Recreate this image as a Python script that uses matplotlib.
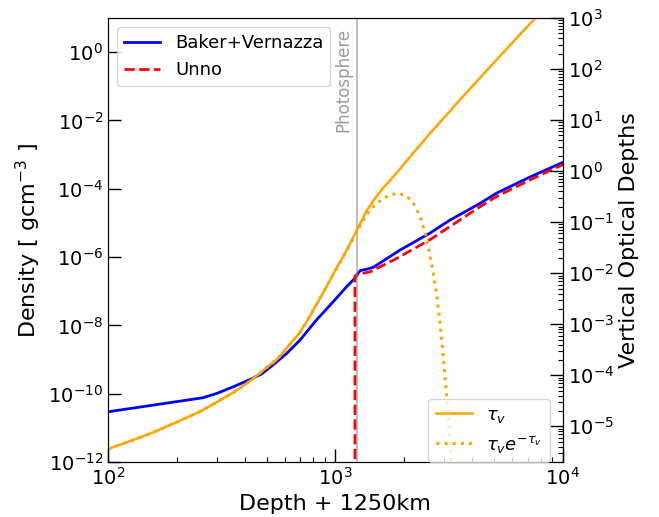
import matplotlib
matplotlib.use("Agg")
import matplotlib.pyplot as plt
from matplotlib.ticker import LogLocator, NullLocator, FixedLocator
import numpy as np

# Density profiles, depth measured from 1250 km above the photosphere (km)
bvDepth = [100, 261, 301, 356, 421, 474, 531, 610, 698, 826, 977, 1119, 1219,
           1282, 1371, 1466, 1923, 2600, 3184, 4315, 5105, 7161, 10000]
bvDensity = [2.95e-11, 7.6e-11, 1.02e-10, 1.6e-10, 2.6e-10, 3.8e-10, 6.9e-10,
             1.5e-9, 3.7e-9, 1.45e-8, 4.9e-8, 1.35e-7, 2.4e-7, 4.0e-7, 4.4e-7,
             5.0e-7, 1.6e-6, 5.0e-6, 1.2e-5, 3.7e-5, 7.4e-5, 2.2e-4, 5.9e-4]

unnoDepth = [1219, 1219, 1259, 1303, 1419, 1858, 2600, 4315, 5105, 7161, 10000]
unnoDensity = [1e-14, 2.8e-7, 3.2e-7, 3.3e-7, 3.7e-7, 9.1e-7, 3.2e-6, 2.95e-5,
               5.9e-5, 1.8e-4, 5.1e-4]

# Vertical optical depth
tauDepth = [100, 126, 153, 200, 254, 302, 356, 407, 451, 501, 551, 617, 698,
            759, 826, 902, 977, 1119, 1239, 1371, 1479, 1622, 1758, 1888, 2056,
            2178, 2275, 2366, 2489, 2582, 2692, 2786, 2877, 2979, 3097, 3184,
            3311, 3981, 5623, 7656, 10000]
tauValues = [3.6e-6, 5.2e-6, 7.2e-6, 1.2e-5, 1.95e-5, 3.0e-5, 4.6e-5, 6.9e-5,
             9.8e-5, 1.45e-4, 2.0e-4, 3.6e-4, 6.9e-4, 1.26e-3, 2.45e-3,
             4.9e-3, 9.5e-3, 2.8e-2, 6.8e-2, 0.166, 0.275, 0.47, 0.69, 1.0,
             1.58, 2.14, 2.7, 3.3, 4.3, 5.25, 6.45, 7.6, 8.9, 10.7, 12.9, 14.8,
             18.2, 45.0, 240.0, 1050.0, 4000.0]

photosphereDepth = 1250


def configureTicks(ax, ax2) -> None:
    """`configureTicks` sets inward log ticks on both y axes and the depth axis."""

    for a in (ax, ax2):
        a.tick_params(which="both", direction="in", labelsize=14)
        a.tick_params(which="major", length=9.5, width=1)
        a.tick_params(which="minor", length=3.5, width=0.8)

    # Left axis: labels every second decade, no minor ticks
    ax.yaxis.set_major_locator(FixedLocator([10.0 ** p for p in range(-12, 1, 2)]))
    ax.yaxis.set_minor_locator(NullLocator())

    # Right axis: every decade with minor ticks
    ax2.yaxis.set_major_locator(LogLocator(base=10, numticks=20))
    ax2.yaxis.set_minor_locator(LogLocator(base=10, subs=np.arange(2, 10), numticks=20))

    ax.xaxis.set_major_locator(LogLocator(base=10, numticks=10))
    ax.xaxis.set_minor_locator(LogLocator(base=10, subs=np.arange(2, 10), numticks=10))
    ax.xaxis.set_minor_formatter(plt.NullFormatter())


fig, ax = plt.subplots(figsize=(6.59, 5.17), dpi=100)
fig.subplots_adjust(left=0.164, right=0.854, bottom=0.1064, top=0.9652)

ax.plot(bvDepth, bvDensity, color="blue", lw=2, label="Baker+Vernazza")
ax.plot(unnoDepth, unnoDensity, color="red", lw=2, ls="--", label="Unno")

# Photosphere marker
ax.axvline(photosphereDepth, color="gray", alpha=0.5, lw=1.5)
ax.text(photosphereDepth / 1.055, 0.977, "Photosphere", rotation=90,
        ha="right", va="top", fontsize=12, color="gray", alpha=0.8,
        transform=ax.get_xaxis_transform())

ax.set_xscale("log")
ax.set_yscale("log")
ax.set_xlim(1e2, 1e4)
ax.set_ylim(1e-12, 1e1)
ax.set_xlabel("Depth + 1250km", fontsize=16)
ax.set_ylabel("Density [ gcm$^{-3}$ ]", fontsize=16)
ax.legend(loc="upper left", fontsize=13)

ax2 = ax.twinx()
tau = np.array(tauValues)
ax2.plot(tauDepth, tau, color="orange", lw=1.8, label=r"$\tau_v$")
ax2.plot(tauDepth, tau * np.exp(-tau), color="orange", lw=2.2, ls=":",
         label=r"$\tau_v e^{-\tau_v}$")
ax2.set_yscale("log")
ax2.set_ylim(2e-6, 1e3)
ax2.set_ylabel("Vertical Optical Depths", fontsize=16)
ax2.legend(loc="lower right", bbox_to_anchor=(0.971, 0.0), borderaxespad=0,
           fontsize=13)

configureTicks(ax, ax2)

fig.savefig("out.png", dpi=100)
